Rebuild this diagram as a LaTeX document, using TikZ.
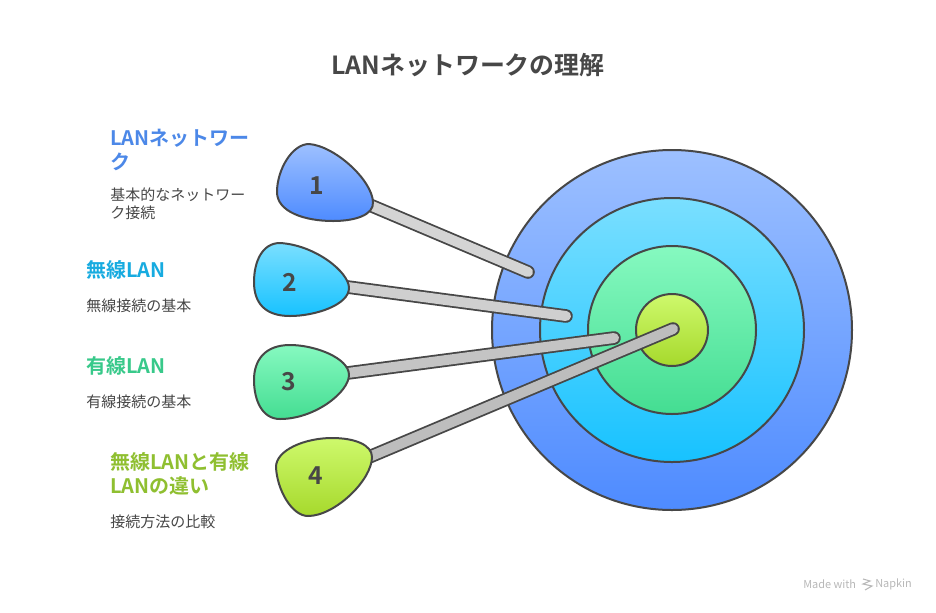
\documentclass[tikz,border=0pt]{standalone}
\usepackage{fontspec}
\setmainfont{Noto Sans CJK JP}[BoldFont={Noto Sans CJK JP Bold}]
\definecolor{ink}{HTML}{474747}
\definecolor{blueT}{HTML}{9DC0FF}\definecolor{blueB}{HTML}{4E8BFF}
\definecolor{skyT}{HTML}{7ADFFF}\definecolor{skyB}{HTML}{17C2FF}
\definecolor{greenT}{HTML}{86F9C0}\definecolor{greenB}{HTML}{44DD92}
\definecolor{limeT}{HTML}{CEF96C}\definecolor{limeB}{HTML}{A6D92C}
\definecolor{labBlue}{HTML}{4C88E8}\definecolor{labSky}{HTML}{17ABE0}
\definecolor{labGreen}{HTML}{38C98A}\definecolor{labLime}{HTML}{8FBF30}
\tikzset{
  x=0.75pt,y=-0.75pt,
  ring/.style={draw=ink,line width=1.5pt},
  pin/.style={draw=ink,line width=1.5pt,line join=round},
  numlabel/.style={text=ink,font=\fontsize{18.5}{20}\selectfont\bfseries,inner sep=0},
  headlabel/.style={anchor=north west,align=left,inner sep=0,font=\fontsize{15}{18}\selectfont\bfseries},
  desclabel/.style={anchor=north west,align=left,inner sep=0,text=ink,font=\fontsize{11.25}{12.9}\selectfont},
  stickout/.style={draw=ink,line width=10.2pt,line cap=round},
}
\newcommand{\stick}[3]{%
  \draw[stickout] (#1) -- (#2);
  \draw[line width=7.5pt,line cap=round,draw=#3] (#1) -- (#2);}
\begin{document}
\begin{tikzpicture}
\useasboundingbox (0,0) rectangle (936,612);
\fill[white] (0,0) rectangle (936,612);
\node[text=ink,font=\fontsize{18.7}{22}\selectfont\bfseries,inner sep=0] (title) at (468,65) {LANネットワークの理解};

% target
\path[ring,top color=blueT,bottom color=blueB] (672,330) circle [radius=180];
\path[ring,top color=skyT,bottom color=skyB] (672,330) circle [radius=132];
\path[ring,top color=greenT,bottom color=greenB] (672,330) circle [radius=84];
\path[ring,top color=limeT,bottom color=limeB] (672,330) circle [radius=36];

% stick ends
\coordinate (a1) at (365,203); \coordinate (t1) at (528,272);
\coordinate (a2) at (340,286); \coordinate (t2) at (566,316);
\coordinate (a3) at (340,374); \coordinate (t3) at (614,338);
\coordinate (a4) at (362,460); \coordinate (t4) at (673,329);
\stick{a1}{t1}{black!17}
\stick{a2}{t2}{black!19}
\stick{a3}{t3}{black!23}
\stick{a4}{t4}{black!26}

% pins
\path[pin,top color=blueT,bottom color=blueB] (309,144) .. controls (335,146) and (372,180) .. (373,202) .. controls (374,215) and (355,221) .. (333,221) .. controls (305,221) and (277,212) .. (277,192) .. controls (277,170) and (292,144) .. (309,144) -- cycle;
\path[pin,top color=skyT,bottom color=skyB] (280,243) .. controls (315,245) and (349,272) .. (349,288) .. controls (349,305) and (315,316) .. (290,316) .. controls (265,316) and (254,303) .. (254,282) .. controls (254,262) and (262,243) .. (280,243) -- cycle;
\path[pin,top color=greenT,bottom color=greenB] (290,345) .. controls (315,345) and (349,358) .. (349,375) .. controls (349,392) and (315,419) .. (280,419) .. controls (262,419) and (254,400) .. (254,380) .. controls (254,360) and (265,345) .. (290,345) -- cycle;
\path[pin,top color=limeT,bottom color=limeB] (332,438) .. controls (355,438) and (372,445) .. (372,457) .. controls (372,480) and (335,516) .. (308,516) .. controls (292,516) and (277,490) .. (276,467) .. controls (276,450) and (305,438) .. (332,438) -- cycle;

\node[numlabel] (n1) at (317,186) {1};
\node[numlabel] (n2) at (290,282) {2};
\node[numlabel] (n3) at (289,382) {3};
\node[numlabel] (n4) at (316,476) {4};

% labels
\node[headlabel,text=labBlue] (h1) at (110,129) {LANネットワー\\ク};
\node[desclabel] (d1) at (110,188) {基本的なネットワー\\ク接続};
\node[headlabel,text=labSky] (h2) at (86,260) {無線LAN};
\node[desclabel] (d2) at (86,299) {無線接続の基本};
\node[headlabel,text=labGreen] (h3) at (86,356) {有線LAN};
\node[desclabel] (d3) at (86,395) {有線接続の基本};
\node[headlabel,text=labLime] (h4) at (110,452) {無線LANと有線\\LANの違い};
\node[desclabel] (d4) at (110,515) {接続方法の比較};

% footer
\node[anchor=west,inner sep=0,text=black!28,font=\fontsize{8.2}{10}\selectfont] (made) at (803,584) {Made with};
\node[anchor=west,inner sep=0,text=black!28,font=\fontsize{8.2}{10}\selectfont] (nap) at (875,584) {Napkin};
\draw[black!28,line width=0.8pt] (863,579) -- (870,581) -- (863,584) -- (872,586) -- (865,590);
\end{tikzpicture}
\end{document}
